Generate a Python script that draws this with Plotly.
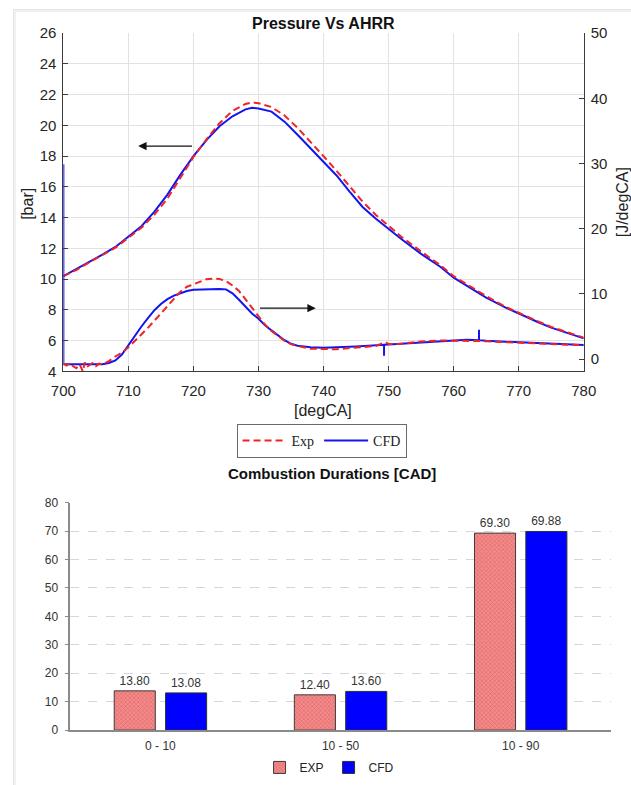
import plotly.graph_objects as go

# Layout is specified in target-image pixels; fx/fy map them to the
# browser page, whose html body keeps its default 8 px margin.
BODY = 8
SX, BX = 0.959, 5.0
SY, BY = 0.977, 1.0
W, H = 645, 795

# ---------------- cylinder pressure [bar] vs crank angle [degCA]
ca_p = [700, 702, 704, 706, 708, 710, 712, 714, 716, 718, 720, 722, 724, 726, 728,
        729, 730, 732, 734, 736, 738, 740, 742, 744, 746, 748, 750, 752, 755, 758,
        760, 763, 765, 768, 770, 773, 775, 778, 780]
p_exp = [10.2, 10.6, 11.1, 11.6, 12.05, 12.7, 13.35, 14.2, 15.25, 16.6, 17.95, 19.1,
         20.15, 20.95, 21.4, 21.5, 21.45, 21.2, 20.65, 19.85, 18.95, 18.0, 17.05,
         16.05, 15.05, 14.2, 13.45, 12.75, 11.8, 10.9, 10.2, 9.4, 8.9, 8.2, 7.8,
         7.25, 6.9, 6.5, 6.2]
p_cfd = [10.2, 10.65, 11.15, 11.6, 12.1, 12.75, 13.45, 14.4, 15.5, 16.8, 18.0, 19.05,
         19.95, 20.6, 21.05, 21.15, 21.1, 20.9, 20.25, 19.4, 18.5, 17.6, 16.75, 15.7,
         14.7, 13.95, 13.25, 12.6, 11.65, 10.8, 10.1, 9.3, 8.8, 8.15, 7.75, 7.2,
         6.85, 6.45, 6.15]

# ---------------- apparent heat release rate [J/degCA]
ca_hrr_exp = [700, 700.5, 701, 701.5, 702, 702.5, 703, 703.3, 703.6, 704, 704.5, 705,
              705.5, 706, 707, 708, 709, 710, 711, 712, 713, 714, 715, 716, 717, 718,
              719, 720, 721, 722, 723, 724, 725, 726, 727, 728, 729, 730, 731, 732,
              733, 734, 735, 736, 738, 740, 742, 744, 746, 748, 749.5, 750, 752, 755,
              758, 760, 762, 765, 768, 770, 772, 775, 778, 780]
hrr_exp = [-0.7, -1.0, -0.6, -1.1, -1.4, -0.8, -1.9, -0.5, -1.2, -0.9, -0.6, -1.1,
           -0.7, -0.8, -0.3, 0.4, 1.0, 1.8, 2.8, 3.7, 4.8, 5.9, 7.0, 8.2, 9.3, 10.35,
           11.1, 11.5, 11.9, 12.25, 12.35, 12.3, 11.95, 11.3, 10.45, 9.2, 7.95, 6.6,
           5.3, 4.3, 3.5, 2.8, 2.3, 2.0, 1.6, 1.5, 1.5, 1.7, 1.85, 2.0, 2.6, 2.3, 2.35,
           2.7, 2.85, 2.85, 2.8, 2.75, 2.6, 2.5, 2.45, 2.3, 2.2, 2.15]
ca_hrr_cfd = [700, 700, 702, 704, 706, 707, 708, 709, 710, 711, 712, 713, 714, 715,
              716, 717, 718, 719, 720, 722, 724, 725, 726, 727, 728, 729, 730, 731,
              732, 733, 734, 735, 736, 738, 740, 745, 749.3, 749.3, 749.3, 750, 755,
              760, 762, 763.9, 763.9, 763.9, 765, 770, 775, 780]
hrr_cfd = [29.9, -0.8, -0.8, -0.85, -0.8, -0.6, -0.2, 0.7, 2.2, 3.6, 5.0, 6.3, 7.5,
           8.45, 9.2, 9.75, 10.15, 10.45, 10.65, 10.75, 10.75, 10.7, 10.1, 9.1, 8.1,
           7.0, 6.2, 5.2, 4.4, 3.6, 2.9, 2.35, 2.05, 1.8, 1.75, 1.95, 2.2, 0.5, 2.2,
           2.25, 2.55, 2.9, 2.95, 2.9, 4.5, 2.9, 2.8, 2.55, 2.35, 2.15]

# ---------------- combustion durations [CAD]
dur_cats = ["0 - 10", "10 - 50", "10 - 90"]
dur_exp = [13.80, 12.40, 69.30]
dur_cfd = [13.08, 13.60, 69.88]

RED = "#f02424"
BLUE = "#1414f0"
SANS = "Liberation Sans, Arial, sans-serif"
SERIF = "Liberation Serif, Times New Roman, serif"


def fx(px):
    """target x pixel -> paper fraction"""
    return ((px - BX) / SX - BODY) / W


def fy(py):
    """target y pixel -> paper fraction"""
    return 1 - ((py - BY) / SY - BODY) / H


fig = go.Figure()

# CFD first so the dashed experiment lines sit on top
fig.add_trace(go.Scatter(x=ca_p, y=p_cfd, name="CFD", mode="lines", legendrank=2,
                         line=dict(color=BLUE, width=2), xaxis="x", yaxis="y"))
fig.add_trace(go.Scatter(x=ca_p, y=p_exp, name="Exp", mode="lines", legendrank=1,
                         line=dict(color=RED, width=2, dash="7px,4px"),
                         xaxis="x", yaxis="y"))
fig.add_trace(go.Scatter(x=ca_hrr_cfd, y=hrr_cfd, mode="lines", showlegend=False,
                         line=dict(color=BLUE, width=2), xaxis="x", yaxis="y2"))
fig.add_trace(go.Scatter(x=ca_hrr_exp, y=hrr_exp, mode="lines", showlegend=False,
                         line=dict(color=RED, width=2, dash="7px,4px"),
                         xaxis="x", yaxis="y2"))

fig.add_trace(go.Bar(
    x=dur_cats, y=dur_exp, name="EXP", xaxis="x2", yaxis="y3", legend="legend2",
    marker=dict(color="#f07c7c", line=dict(color="#3c3c3c", width=1),
                pattern=dict(shape="x", fgcolor="#c84444", bgcolor="#f48a8a",
                             size=3, solidity=0.35)),
    texttemplate="%{y:.2f}", textposition="outside", cliponaxis=False,
    textfont=dict(family=SANS, size=12, color="#333333")))
fig.add_trace(go.Bar(
    x=dur_cats, y=dur_cfd, name="CFD", xaxis="x2", yaxis="y3", legend="legend2",
    marker=dict(color="#0000ff", line=dict(color="#303030", width=1)),
    texttemplate="%{y:.2f}", textposition="outside", cliponaxis=False,
    textfont=dict(family=SANS, size=12, color="#333333")))

top_axis = dict(showline=True, linecolor="#3c3c3c", linewidth=1, ticks="inside",
                ticklen=5, tickcolor="#3c3c3c", zeroline=False,
                tickfont=dict(family=SANS, size=15, color="#262626"))

fig.update_layout(
    width=W, height=H, autosize=False,
    margin=dict(l=0, r=0, t=0, b=0),
    paper_bgcolor="white", plot_bgcolor="rgba(0,0,0,0)",
    barmode="group", bargap=0.43, bargroupgap=0.2,
    xaxis=dict(domain=[fx(63), fx(583)], range=[700, 780], dtick=10, anchor="y",
               showgrid=True, gridcolor="#e2e2e2", ticklabelstandoff=6, **top_axis),
    yaxis=dict(domain=[fy(370.7), fy(33)], range=[4, 26], dtick=2, anchor="x",
               showgrid=True, gridcolor="#e2e2e2", ticklabelstandoff=3, **top_axis),
    yaxis2=dict(overlaying="y", side="right", anchor="x", range=[-1.9, 50],
                tickvals=[0, 10, 20, 30, 40, 50], showgrid=False,
                ticklabelstandoff=3, **top_axis),
    xaxis2=dict(domain=[fx(70), fx(610)], anchor="y3", type="category",
                showline=True, linecolor="#8a8a8a", linewidth=1.5, ticks="",
                showgrid=False, ticklabelstandoff=4,
                tickfont=dict(family=SANS, size=12, color="#333333")),
    yaxis3=dict(domain=[fy(728.7), fy(501.7)], anchor="x2", range=[0, 80], dtick=10,
                showline=True, linecolor="#8a8a8a", linewidth=1.5, ticks="outside",
                ticklen=4, tickcolor="#8a8a8a", showgrid=True, gridcolor="#d6d6d6",
                griddash="dash", zeroline=False, ticklabelstandoff=4,
                tickfont=dict(family=SANS, size=12, color="#333333")),
    legend=dict(orientation="h", x=fx(321), y=fy(440), xanchor="center",
                yanchor="middle", bgcolor="white", bordercolor="#6a6a6a",
                borderwidth=1, font=dict(family=SERIF, size=14, color="#222222"),
                itemwidth=44),
    legend2=dict(orientation="h", x=fx(329), y=fy(766), xanchor="center",
                 yanchor="middle", bgcolor="rgba(0,0,0,0)",
                 font=dict(family=SANS, size=12, color="#222222"),
                 itemwidth=30),
    showlegend=True,
)

# soft shadow on the left and top edges of the card
for a, b, c in [(0, 1.5, "#e6e6e6"), (1.5, 3, "#efefef")]:
    fig.add_shape(type="rect", xref="paper", yref="paper", layer="below",
                  x0=a / W, x1=b / W, y0=0, y1=1 - a / H, fillcolor=c, line_width=0)
    fig.add_shape(type="rect", xref="paper", yref="paper", layer="below",
                  x0=a / W, x1=1, y0=1 - b / H, y1=1 - a / H, fillcolor=c,
                  line_width=0)

annotations = [
    dict(text="<b>Pressure Vs AHRR</b>", x=fx(323), y=fy(23),
         font=dict(family=SANS, size=16, color="#111111")),
    dict(text="[bar]", x=fx(27), y=fy(203), textangle=-90,
         font=dict(family=SANS, size=16, color="#222222")),
    dict(text="[J/degCA]", x=fx(622), y=fy(202), textangle=-90,
         font=dict(family=SANS, size=16, color="#222222")),
    dict(text="[degCA]", x=fx(322), y=fy(410),
         font=dict(family=SANS, size=16, color="#222222")),
    dict(text="<b>Combustion Durations [CAD]</b>", x=fx(331), y=fy(473),
         font=dict(family=SANS, size=15, color="#111111")),
]
for a in annotations:
    fig.add_annotation(xref="paper", yref="paper", showarrow=False,
                       xanchor="center", yanchor="middle", **a)

# direction arrows pointing to the axis each curve family belongs to
fig.add_annotation(x=711.5, y=18.66, ax=720, ay=18.66, xref="x", yref="y",
                   axref="x", ayref="y", text="", showarrow=True, arrowhead=2,
                   arrowsize=1.2, arrowwidth=1.4, arrowcolor="#111111")
fig.add_annotation(x=738.8, y=8.12, ax=730, ay=8.12, xref="x", yref="y",
                   axref="x", ayref="y", text="", showarrow=True, arrowhead=2,
                   arrowsize=1.2, arrowwidth=1.4, arrowcolor="#111111")

fig.write_html("out.html")
